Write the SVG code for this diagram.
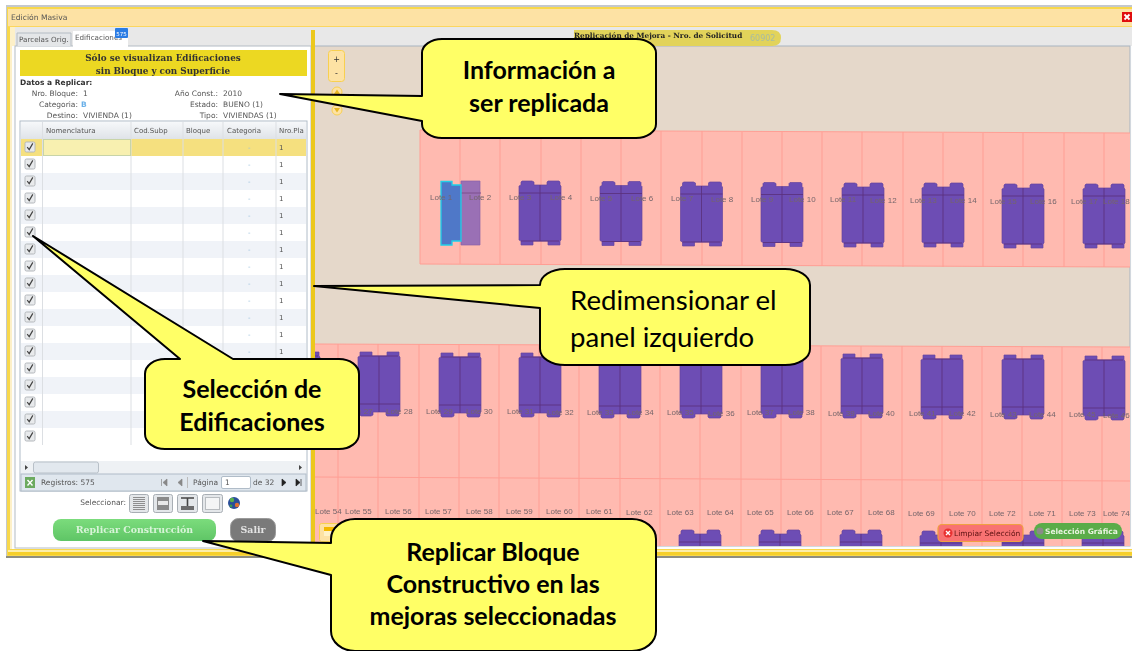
<svg xmlns="http://www.w3.org/2000/svg" xmlns:xlink="http://www.w3.org/1999/xlink" width="1132" height="651" viewBox="0 0 1132 651">
<style>
.ui{font-family:"DejaVu Sans",sans-serif;font-size:7.5px;fill:#555}
.uib{font-family:"DejaVu Sans",sans-serif;font-size:7.5px;font-weight:bold;fill:#333}
.ser{font-family:"DejaVu Serif",serif;font-size:8.8px;font-weight:bold;fill:#333}
.r{text-anchor:end}
.m{text-anchor:middle}
.hd{font-family:"DejaVu Sans",sans-serif;font-size:7px;fill:#555}
.d{font-family:"DejaVu Sans",sans-serif;font-size:7px;fill:#9cc0dc}
.n{font-family:"DejaVu Sans",sans-serif;font-size:7px;fill:#555}
.l{font-family:"Liberation Sans",sans-serif;font-size:8px;fill:#75656a}
.lot{fill:none;stroke:#ff9e94;stroke-width:1}
.co{fill:#ffff66;stroke:#000;stroke-width:2;stroke-linejoin:round}
.ct{font-family:"Lato","Noto Sans",sans-serif;font-size:25px;font-weight:bold;fill:#000;text-anchor:middle}
.cr{font-family:"Lato","Noto Sans",sans-serif;font-size:27.6px;fill:#000}
.sep{stroke:#dcdfe3;stroke-width:1}
.ib{fill:#e4e7ea;stroke:#a8aeb4;stroke-width:1}
.ik{stroke:#777;stroke-width:0.8}
</style>
<defs>
<filter id="soft" x="0" y="0" width="1" height="1"><feGaussianBlur stdDeviation="0.35"/></filter>
<clipPath id="mapclip"><rect x="315" y="47" width="815" height="499"/></clipPath>
<linearGradient id="hdg" x1="0" y1="0" x2="0" y2="1"><stop offset="0" stop-color="#f6f8fa"/><stop offset="1" stop-color="#dfe3e8"/></linearGradient>
<linearGradient id="grn" x1="0" y1="0" x2="0" y2="1"><stop offset="0" stop-color="#7bdc7c"/><stop offset="1" stop-color="#5fc566"/></linearGradient>
<g id="cb"><rect x="-5" y="-5" width="10" height="10" rx="1.5" fill="#e8eaec" stroke="#b4b8bc"/><path d="M-2.800,0.200 L-0.800,2.600 L2.800,-3.600" fill="none" stroke="#444" stroke-width="1.200"/></g>
<g id="b"><path d="M0,5 L2,4 V1 L3,0 H13 L15,1 V4 H28 V1 L29,0 H40 L41,1 V4 L42,5 V59 L41,60 V64 H29 V60 H14 V64 H2 V60 L0,59 Z" fill="#6d4eb4" stroke="#65459f" stroke-width="0.7"/><path d="M21,4 V60 M0,12 H42 M2,60 H40" fill="none" stroke="#5b3180" stroke-width="0.9"/></g>
<g id="bf"><use href="#b" transform="translate(0,64) scale(1,-1)"/></g>
</defs>
<rect width="1132" height="651" fill="#fff"/>
<g id="screenshot" filter="url(#soft)">
<g id="window">
<rect x="6" y="5" width="1126" height="553" fill="#c4c8cc"/>
<rect x="7" y="7" width="1125" height="549" fill="#f8d84c"/>
<rect x="8" y="9" width="1124" height="18" fill="#fde2a4"/>
<rect x="8" y="26" width="1124" height="1" fill="#fbd65e"/>
<rect x="10" y="27" width="1122" height="519" fill="#e8e8e8"/>
<rect x="10" y="27" width="5" height="522" fill="#fdf0c8"/>
<rect x="12" y="46" width="1120" height="503" fill="#fdfdfd"/>
<rect x="8" y="550" width="1124" height="2" fill="#fdeea8"/>
<rect x="8" y="552" width="1124" height="3" fill="#f6cf2c"/>
<rect x="6" y="556" width="1126" height="2" fill="#8d8d80"/>
<text x="11" y="20" class="ui" style="font-size:7.600px">Edición Masiva</text>
<rect x="1122" y="12" width="10" height="10" fill="#e01010"/>
<path d="M1124.500,14.500 L1129.500,19.500 M1129.500,14.500 L1124.500,19.500" stroke="#fff" stroke-width="1.800"/>
</g>
<g id="left-panel">
<rect x="15" y="46" width="296" height="502" fill="#fff" stroke="#b4bcc4"/>
<path d="M17,46 V33 H71 V46" fill="#e4e6e8" stroke="#b4bcc4"/>
<text x="19" y="42" class="ui" style="font-size:7.200px">Parcelas Orig.</text>
<path d="M73,47 V31 H128 V47 Z" fill="#fff"/>
<text x="75" y="40" class="ui" style="font-size:7.200px">Edificaciones</text>
<rect x="115" y="28" width="13" height="10" rx="1" fill="#2a7be4"/>
<text x="121.500" y="36" class="m" style="font-family:'DejaVu Sans',sans-serif;font-size:5.500px;fill:#fff">575</text>
<rect x="20" y="50" width="287" height="26" fill="#ecd821"/>
<text x="163" y="60.500" class="ser m">Sólo se visualizan Edificaciones</text>
<text x="163" y="73.500" class="ser m">sin Bloque y con Superficie</text>
<text x="20" y="85" class="uib">Datos a Replicar:</text>
<text x="78" y="96" class="ui r">Nro. Bloque:</text><text x="83" y="96" class="ui">1</text>
<text x="78" y="107" class="ui r">Categoria:</text><text x="81" y="107" class="ui" style="fill:#6ab0e8;font-weight:bold">B</text>
<text x="78" y="118" class="ui r">Destino:</text><text x="83" y="118" class="ui">VIVIENDA (1)</text>
<text x="218" y="96" class="ui r">Año Const.:</text><text x="223" y="96" class="ui">2010</text>
<text x="218" y="107" class="ui r">Estado:</text><text x="223" y="107" class="ui">BUENO (1)</text>
<text x="218" y="118" class="ui r">Tipo:</text><text x="223" y="118" class="ui">VIVIENDAS (1)</text>
</g>
<g id="grid">
<rect x="20" y="121" width="287" height="370" fill="#fff" stroke="#b0bcc8"/>
<rect x="21" y="122" width="285" height="17" fill="url(#hdg)"/>
<rect x="21" y="139" width="285" height="17" fill="#f5e07f"/>
<rect x="21" y="173" width="285" height="17" fill="#f0f3f8"/>
<rect x="21" y="207" width="285" height="17" fill="#f0f3f8"/>
<rect x="21" y="241" width="285" height="17" fill="#f0f3f8"/>
<rect x="21" y="275" width="285" height="17" fill="#f0f3f8"/>
<rect x="21" y="309" width="285" height="17" fill="#f0f3f8"/>
<rect x="21" y="343" width="285" height="17" fill="#f0f3f8"/>
<rect x="21" y="377" width="285" height="17" fill="#f0f3f8"/>
<rect x="21" y="411" width="285" height="17" fill="#f0f3f8"/>
<path class="sep" d="M42.500,122 V445 M131,122 V445 M183,122 V445 M223,122 V445 M276,122 V445"/>
<rect x="43.500" y="139.500" width="87" height="16" fill="#f8f0b0" stroke="#c8d4a8"/>
<text x="46" y="133" class="hd">Nomenclatura</text>
<text x="134" y="133" class="hd">Cod.Subp</text>
<text x="186" y="133" class="hd">Bloque</text>
<text x="227" y="133" class="hd">Categoria</text>
<text x="279" y="133" class="hd">Nro.Pla</text>
<use href="#cb" x="30" y="147"/><use href="#cb" x="30" y="164"/><use href="#cb" x="30" y="181"/><use href="#cb" x="30" y="198"/><use href="#cb" x="30" y="215"/><use href="#cb" x="30" y="232"/><use href="#cb" x="30" y="249"/><use href="#cb" x="30" y="266"/><use href="#cb" x="30" y="283"/><use href="#cb" x="30" y="300"/><use href="#cb" x="30" y="317"/><use href="#cb" x="30" y="334"/><use href="#cb" x="30" y="351"/><use href="#cb" x="30" y="368"/><use href="#cb" x="30" y="385"/><use href="#cb" x="30" y="402"/><use href="#cb" x="30" y="419"/><use href="#cb" x="30" y="436"/>
<text x="248" y="150" class="d">-</text><text x="248" y="167" class="d">-</text><text x="248" y="184" class="d">-</text><text x="248" y="201" class="d">-</text><text x="248" y="218" class="d">-</text><text x="248" y="235" class="d">-</text><text x="248" y="252" class="d">-</text><text x="248" y="269" class="d">-</text><text x="248" y="286" class="d">-</text><text x="248" y="303" class="d">-</text><text x="248" y="320" class="d">-</text><text x="248" y="337" class="d">-</text><text x="248" y="354" class="d">-</text>
<text x="279" y="150" class="n">1</text><text x="279" y="167" class="n">1</text><text x="279" y="184" class="n">1</text><text x="279" y="201" class="n">1</text><text x="279" y="218" class="n">1</text><text x="279" y="235" class="n">1</text><text x="279" y="252" class="n">1</text><text x="279" y="269" class="n">1</text><text x="279" y="286" class="n">1</text><text x="279" y="303" class="n">1</text><text x="279" y="320" class="n">1</text><text x="279" y="337" class="n">1</text><text x="279" y="354" class="n">1</text>
<rect x="21" y="461" width="285" height="13" fill="#eef1f4"/>
<rect x="33.500" y="462" width="65" height="11" rx="2" fill="#e2e8ee" stroke="#b8c0c8"/>
<path d="M28,467.500 L25,465 V470 Z M299,465 L302,467.500 L299,470 Z" fill="#444"/>
<rect x="21" y="474" width="285" height="17" fill="#e0e7ee" stroke="#b0bcc8"/>
<rect x="25" y="477" width="10" height="11" fill="#6caa5e"/>
<path d="M27.500,480 L32.500,485.500 M32.500,480 L27.500,485.500" stroke="#fff" stroke-width="1.400"/>
<text x="41" y="485" class="ui">Registros: 575</text>
<path d="M161.500,479 V486 M167,479 L163,482.500 L167,486 Z M182,479 L178,482.500 L182,486 Z" fill="#888" stroke="#888" stroke-width="0.700"/>
<path d="M187.500,477 V488" stroke="#bbb"/>
<text x="193" y="485" class="ui">Página</text>
<rect x="221.500" y="476.500" width="29" height="12" rx="1.500" fill="#fff" stroke="#b0bcc8"/>
<text x="225" y="485" class="ui">1</text>
<text x="253" y="485" class="ui">de 32</text>
<path d="M282,479 L286,482.500 L282,486 Z M296,479 L300,482.500 L296,486 Z M301,479 V486" fill="#222" stroke="#222" stroke-width="0.700"/>
</g>
<g id="selection-tools">
<text x="126" y="505" class="ui r">Seleccionar:</text>
<rect class="ib" x="129.500" y="494.500" width="19" height="18" rx="2"/>
<rect class="ib" x="153.500" y="494.500" width="19" height="18" rx="2"/>
<rect class="ib" x="177.500" y="494.500" width="20" height="18" rx="2"/>
<rect class="ib" x="202.500" y="494.500" width="20" height="18" rx="2"/>
<rect x="205.500" y="497.500" width="14" height="12" fill="#f4f5f6" stroke="#b8bcc0"/>
<path class="ik" d="M133,497.500 H145 M133,499.500 H145 M133,501.500 H145 M133,503.500 H145 M133,505.500 H145 M133,507.500 H145 M133,509.500 H145"/>
<rect x="157" y="497" width="12" height="13" fill="#8a8a8a"/><rect x="158" y="501" width="10" height="4" fill="#e8e8e8"/>
<path d="M181,498 H194 M187.500,498 V506 M181,507 H194 M181,509 H194" stroke="#444" stroke-width="1.600"/>
<circle cx="234" cy="503" r="6" fill="#2a4e9a"/><circle cx="232" cy="500" r="2.200" fill="#5ab04a"/><circle cx="237" cy="505" r="2.200" fill="#e07030"/><circle cx="231" cy="506" r="1.400" fill="#3a9a50"/>
</g>
<g id="replicar-button">
<rect x="53" y="519" width="163" height="22" rx="8" fill="url(#grn)"/>
<text x="134.500" y="533" class="ser m" style="fill:#d8f4d8;font-size:9.400px">Replicar Construcción</text>
</g>
<g id="salir-button">
<rect x="230.500" y="518.500" width="45" height="23" rx="8" fill="#7a7a7a" stroke="#9a9a9a"/>
<text x="253" y="533" class="ser m" style="fill:#e4e4e4;font-size:9.400px">Salir</text>
</g>
<g id="map-panel">
<rect x="313" y="46" width="817" height="500" fill="#e5d8ca" stroke="#a8b4c0"/>
<rect x="311" y="30" width="4" height="520" fill="#ecc81c"/>
<path d="M574,30 H772 Q781,30 781,38 Q781,46 772,46 H574 Z" fill="#e2d35a"/>
<text x="574" y="37.500" class="ser" style="font-size:7.280px;fill:#222">Replicación de Mejora - Nro. de Solicitud</text>
<text x="750" y="41" class="ui" style="font-size:8px;fill:#a8bca0">60902</text>
<g clip-path="url(#mapclip)">
<path d="M420,130 L1130,133 V267 L420,264 Z" fill="#ffbab0"/>
<path d="M315,344 L1130,347 V546 H315 Z" fill="#ffbab0"/>
<g id="lot-lines">
<path class="lot" d="M420,130 L1130,133 M420,264 L1130,267 M420,130 V264 M460,130 V264 M500,130 V264 M541,130 V265 M581,131 V265 M621,131 V265 M661,131 V265 M702,131 V265 M742,132 V266 M782,132 V266 M822,132 V266 M862,132 V266 M903,132 V267 M943,133 V267 M983,133 V267 M1023,133 V267 M1064,133 V267 M1104,133 V267"/>
<path class="lot" d="M315,344 L1130,347 M315,477 L1130,481 M338,344 V546 M378,344 V546 M419,344 V546 M459,345 V546 M499,345 V546 M539,345 V546 M579,345 V546 M620,345 V546 M660,345 V546 M700,346 V546 M741,346 V546 M781,346 V546 M821,346 V546 M861,346 V546 M902,346 V546 M942,346 V546 M982,347 V546 M1022,347 V546 M1062,347 V546 M1102,347 V546"/>
</g>
<g id="buildings">
<path d="M461,184.500 V181 H480 V245 H461 Z" fill="#9a70b5" stroke="#8a62a8" stroke-width="0.700"/>
<path d="M461,193 H481" stroke="#7c4f8c"/>
<path d="M441,181.500 H452 V185 H461 V241 H452 V245 H441 Z" fill="#4f78c8" stroke="#20d0e8" stroke-width="1.300"/>
<use href="#b" x="519" y="181"/><use href="#b" x="600" y="181.500"/><use href="#b" x="680.500" y="182"/><use href="#b" x="761" y="182.500"/><use href="#b" x="842" y="183"/><use href="#b" x="922" y="183"/><use href="#b" x="1002" y="184"/><use href="#b" x="1083" y="184"/>
<use href="#bf" x="278" y="352"/><use href="#bf" x="358" y="352"/><use href="#bf" x="439" y="353"/><use href="#bf" x="519" y="353"/><use href="#bf" x="599" y="354"/><use href="#bf" x="680" y="354"/><use href="#bf" x="761" y="354"/><use href="#bf" x="841" y="354"/><use href="#bf" x="921" y="355"/><use href="#bf" x="1002" y="355"/><use href="#bf" x="1083" y="356"/>
<use href="#b" x="679" y="530"/><use href="#b" x="759" y="530"/><use href="#b" x="840" y="530"/><use href="#b" x="920" y="531"/><use href="#b" x="1002" y="531"/><use href="#b" x="1082" y="531"/>
</g>
<g id="lot-labels">
<text class="l" x="430" y="200">Lote 1</text><text class="l" x="469" y="200">Lote 2</text><text class="l" x="509" y="200">Lote 3</text><text class="l" x="550" y="200">Lote 4</text><text class="l" x="590" y="201">Lote 5</text><text class="l" x="631" y="201">Lote 6</text><text class="l" x="671" y="201">Lote 7</text><text class="l" x="711" y="202">Lote 8</text><text class="l" x="751" y="202">Lote 9</text><text class="l" x="789" y="202">Lote 10</text><text class="l" x="830" y="202">Lote 11</text><text class="l" x="870" y="203">Lote 12</text><text class="l" x="910" y="203">Lote 13</text><text class="l" x="950" y="203">Lote 14</text><text class="l" x="990" y="204">Lote 15</text><text class="l" x="1030" y="204">Lote 16</text><text class="l" x="1071" y="204">Lote 17</text><text class="l" x="1103" y="204">Lote 18</text>
<text class="l" x="346" y="414">Lote 27</text><text class="l" x="386" y="414">Lote 28</text><text class="l" x="426" y="414">Lote 29</text><text class="l" x="466" y="414">Lote 30</text><text class="l" x="507" y="414">Lote 31</text><text class="l" x="547" y="415">Lote 32</text><text class="l" x="587" y="415">Lote 33</text><text class="l" x="627" y="415">Lote 34</text><text class="l" x="667" y="415">Lote 35</text><text class="l" x="708" y="416">Lote 36</text><text class="l" x="747" y="415">Lote 37</text><text class="l" x="788" y="415">Lote 38</text><text class="l" x="828" y="416">Lote 39</text><text class="l" x="868" y="416">Lote 40</text><text class="l" x="909" y="416">Lote 41</text><text class="l" x="949" y="416">Lote 42</text><text class="l" x="990" y="417">Lote 43</text><text class="l" x="1029" y="417">Lote 44</text><text class="l" x="1069" y="417">Lote 45</text><text class="l" x="1103" y="418">Lote 46</text>
<text class="l" x="315" y="514">Lote 54</text><text class="l" x="345" y="514">Lote 55</text><text class="l" x="385" y="514">Lote 56</text><text class="l" x="425" y="514">Lote 57</text><text class="l" x="466" y="514">Lote 58</text><text class="l" x="506" y="514">Lote 59</text><text class="l" x="546" y="514">Lote 60</text><text class="l" x="586" y="514">Lote 61</text><text class="l" x="626" y="515">Lote 62</text><text class="l" x="667" y="515">Lote 63</text><text class="l" x="707" y="515">Lote 64</text><text class="l" x="747" y="515">Lote 65</text><text class="l" x="787" y="515">Lote 66</text><text class="l" x="827" y="515">Lote 67</text><text class="l" x="868" y="515">Lote 68</text><text class="l" x="908" y="516">Lote 69</text><text class="l" x="949" y="516">Lote 70</text><text class="l" x="989" y="516">Lote 72</text><text class="l" x="1029" y="516">Lote 71</text><text class="l" x="1069" y="516">Lote 73</text><text class="l" x="1103" y="516">Lote 74</text>
</g>
</g>
<g id="zoom-controls">
<rect x="328.500" y="50.500" width="16" height="31" rx="3" fill="#fde2a4" stroke="#f8d050"/>
<text x="336.500" y="62" class="ui m" style="fill:#333;font-size:8px">+</text>
<text x="336.500" y="76" class="ui m" style="fill:#333;font-size:8px">-</text>
<circle cx="337" cy="92" r="5" fill="#fde2a4" stroke="#f8d050"/><path d="M334,94 L337,89.500 L340,94 Z" fill="#e8b820"/>
<circle cx="337" cy="110" r="5" fill="#fde2a4" stroke="#f8d050"/><path d="M334,108 L337,112.500 L340,108 Z" fill="#e8b820"/>
<rect x="319.500" y="523.500" width="19" height="18" rx="2" fill="#fde2a4" stroke="#f8d050"/>
<rect x="324" y="527" width="10" height="9" fill="#fff2c8"/><rect x="324" y="527" width="10" height="4" fill="#f4b800"/>
</g>
<g id="limpiar-button">
<rect x="938" y="524.500" width="85" height="17" rx="4" fill="#f87272" stroke="#f0a040" stroke-width="1.200"/>
<circle cx="948" cy="533" r="4.500" fill="#e83030"/><path d="M946,531 L950,535 M950,531 L946,535" stroke="#fff" stroke-width="1.400"/>
<text x="954" y="536" class="ui" style="fill:#5a1010;font-size:7.500px">Limpiar Selección</text>
</g>
<g id="seleccion-grafica-button">
<rect x="1034" y="523" width="88" height="16" rx="8" fill="#5aac4a"/>
<circle cx="1040" cy="531" r="3.500" fill="#8a8a8a"/>
<text x="1045" y="534" class="uib" style="fill:#e8f4e0;font-size:7.500px">Selección Gráfica</text>
</g>
</g>
</g>
<g id="callouts">
<g id="callout-informacion">
<path class="co" d="M442,39 H636 A20 14 0 0 1 656,53 V124 A20 14 0 0 1 636,138 H442 A20 14 0 0 1 422,124 V121 L280,94 L422,96 V53 A20 14 0 0 1 442,39 Z"/>
<text class="ct" x="539" y="79">Información a</text>
<text class="ct" x="539" y="112">ser replicada</text>
</g>
<g id="callout-redimensionar">
<path class="co" d="M565,269 H785 A25 16 0 0 1 810,285 V349 A25 16 0 0 1 785,365 H565 A25 16 0 0 1 540,349 V308 L314,286 L540,285 A25 16 0 0 1 565,269 Z"/>
<text class="cr" x="570" y="310">Redimensionar el</text>
<text class="cr" x="570" y="347">panel izquierdo</text>
</g>
<g id="callout-seleccion">
<path class="co" d="M165,359 H180 L33,236 L233,359 H339 A20 15 0 0 1 359,374 V434 A20 15 0 0 1 339,449 H165 A20 15 0 0 1 145,434 V374 A20 15 0 0 1 165,359 Z"/>
<text class="ct" x="252" y="398">Selección de</text>
<text class="ct" x="252" y="431">Edificaciones</text>
</g>
<g id="callout-replicar">
<path class="co" d="M355,519 H632 A24 20 0 0 1 656,539 V631 A24 20 0 0 1 632,651 H355 A24 20 0 0 1 331,631 V575 L203,541 L331,543 V539 A24 20 0 0 1 355,519 Z"/>
<text class="ct" x="493" y="561">Replicar Bloque</text>
<text class="ct" x="493" y="593">Constructivo en las</text>
<text class="ct" x="493" y="625">mejoras seleccionadas</text>
</g>
</g>
</svg>
